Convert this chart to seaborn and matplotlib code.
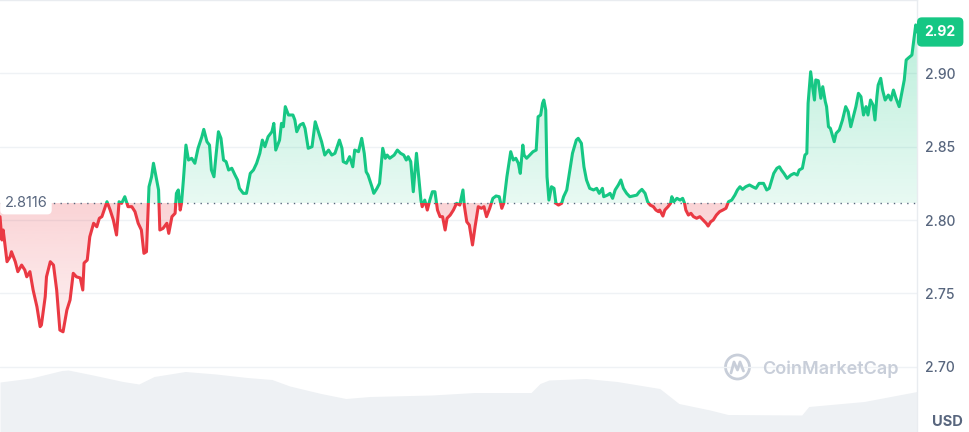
import numpy as np
import matplotlib
matplotlib.use('Agg')
import matplotlib.pyplot as plt
import matplotlib.colors as mcolors
from matplotlib.patches import Rectangle, Circle
from matplotlib.lines import Line2D
from matplotlib.path import Path
from matplotlib.transforms import IdentityTransform
import seaborn as sns

# minutes since the start of the 24h window
minutes = [0, 3, 5, 11, 16, 18, 24, 28, 34, 39, 42, 47, 52, 58, 63, 65, 71, 73, 79, 84,
           89, 94, 99, 105, 110, 115, 120, 126, 130, 132, 137, 141, 147, 152, 156, 160,
           168, 173, 178, 183, 187, 191, 196, 201, 207, 212, 217, 222, 226, 230, 234,
           238, 241, 246, 249, 251, 256, 262, 265, 270, 275, 277, 280, 283, 285, 288,
           292, 296, 301, 306, 311, 317, 320, 325, 329, 332, 336, 339, 343, 347, 351,
           355, 359, 364, 369, 373, 376, 382, 387, 393, 398, 403, 408, 412, 416, 421,
           427, 430, 433, 439, 442, 445, 448, 453, 460, 463, 466, 471,
           476, 479, 484, 490, 495, 500, 505, 510, 516, 521, 526, 533, 537, 539, 544,
           549, 554, 557, 563, 568, 572, 575, 578, 584, 587, 592, 596, 601, 605, 608,
           612, 619, 624, 629, 634, 638, 641, 645, 649, 654, 658, 661, 663, 667, 671,
           675, 679, 683, 687, 691, 695, 699, 702, 707,
           712, 717, 722, 727, 729, 733, 737, 742, 746, 751, 756, 760, 764, 769, 774,
           779, 784, 788, 791, 796, 802, 806, 810, 814, 817, 821, 823, 827, 832, 837,
           842, 845, 849, 852, 854, 857, 859, 862, 866, 870, 873, 877, 882, 885, 890,
           894, 899, 905, 908, 913, 917, 921, 926, 932, 937, 941,
           946, 948, 954, 958, 962, 966, 971, 975, 979, 984, 989, 994, 1000, 1004, 1008,
           1013, 1017, 1021, 1026, 1030, 1034, 1036, 1041, 1044, 1049, 1053, 1055, 1058,
           1063, 1068, 1072, 1075, 1077, 1081, 1085, 1089, 1094, 1099, 1104, 1109, 1112,
           1116, 1120, 1125, 1130, 1135, 1140, 1144, 1149, 1154, 1158, 1162, 1166, 1171,
           1177, 1182, 1187, 1192,
           1199, 1204, 1208, 1212, 1215, 1220, 1224, 1227, 1231, 1236, 1242, 1247, 1252,
           1255, 1260, 1264, 1267, 1269, 1273, 1276, 1279, 1281, 1285, 1289, 1292, 1296,
           1298, 1301, 1304, 1310, 1313, 1318, 1323, 1328, 1332, 1336, 1340, 1344, 1348,
           1352, 1356, 1360, 1363, 1367, 1371, 1374, 1377, 1379, 1383, 1386, 1390, 1395,
           1399, 1403, 1407, 1412, 1416, 1420, 1423, 1426, 1432, 1434, 1438, 1440]

# price in USD
price = [2.8023, 2.7864, 2.7932, 2.7716, 2.7750, 2.7784, 2.7716, 2.7648, 2.7693, 2.7659,
         2.7613, 2.7648, 2.7523, 2.7409, 2.7273, 2.7284, 2.7477, 2.7613, 2.7716, 2.7693,
         2.7523, 2.7250, 2.7238, 2.7386, 2.7455, 2.7637, 2.7613, 2.7605, 2.7523, 2.7707,
         2.7727, 2.7886, 2.7978, 2.7954, 2.8012, 2.8023, 2.8125, 2.8068, 2.8000, 2.7898,
         2.8125, 2.8114, 2.8159, 2.8091, 2.8091, 2.8057, 2.7978, 2.7932, 2.7773, 2.7784,
         2.8227,
         2.8295, 2.8387, 2.8273, 2.8205, 2.7932, 2.7943, 2.7978, 2.7909, 2.8023, 2.8046,
         2.8182, 2.8205, 2.8068, 2.8114, 2.8273, 2.8511, 2.8409, 2.8421, 2.8387, 2.8489,
         2.8568, 2.8618, 2.8534, 2.8511, 2.8341, 2.8295, 2.8432, 2.8602, 2.8557, 2.8409,
         2.8398, 2.8341, 2.8353, 2.8307, 2.8273, 2.8216, 2.8182, 2.8182, 2.8318, 2.8341,
         2.8387, 2.8455, 2.8545, 2.8500, 2.8568, 2.8602, 2.8659, 2.8477, 2.8545, 2.8659,
         2.8636, 2.8773, 2.8716, 2.8716, 2.8682, 2.8602, 2.8648,
         2.8659, 2.8625, 2.8489, 2.8500, 2.8670, 2.8602, 2.8534, 2.8443, 2.8477, 2.8443,
         2.8455, 2.8545, 2.8489, 2.8398, 2.8387, 2.8432, 2.8363, 2.8477, 2.8466, 2.8557,
         2.8455, 2.8329, 2.8307, 2.8227, 2.8182, 2.8216, 2.8250, 2.8489, 2.8421, 2.8443,
         2.8421, 2.8443, 2.8477, 2.8455, 2.8443, 2.8409, 2.8432, 2.8398, 2.8193, 2.8455,
         2.8273, 2.8136, 2.8091, 2.8136, 2.8068, 2.8136, 2.8193, 2.8193, 2.8068, 2.8023,
         2.8023, 2.7932, 2.8012, 2.8034,
         2.8068, 2.8114, 2.8102, 2.8205, 2.8102, 2.7988, 2.7966, 2.7830, 2.7954, 2.8091,
         2.8080, 2.8091, 2.8023, 2.8080, 2.8148, 2.8164, 2.8159, 2.8080, 2.8114, 2.8295,
         2.8466, 2.8409, 2.8421, 2.8387, 2.8318, 2.8511, 2.8443, 2.8421, 2.8443, 2.8466,
         2.8477, 2.8704, 2.8716, 2.8796, 2.8818, 2.8750, 2.8295, 2.8136, 2.8227, 2.8216,
         2.8114, 2.8102, 2.8114, 2.8159, 2.8205, 2.8318, 2.8455, 2.8545, 2.8557, 2.8523,
         2.8363, 2.8273, 2.8216, 2.8205, 2.8216, 2.8182,
         2.8216, 2.8159, 2.8170, 2.8182, 2.8148, 2.8205, 2.8239, 2.8273, 2.8216, 2.8182,
         2.8159, 2.8164, 2.8170, 2.8193, 2.8209, 2.8182, 2.8125, 2.8102, 2.8091, 2.8068,
         2.8057, 2.8068, 2.8027, 2.8068, 2.8091, 2.8114, 2.8159, 2.8125, 2.8148, 2.8136,
         2.8148, 2.8114, 2.8068, 2.8034, 2.8046, 2.8023, 2.8012, 2.8023, 2.8000, 2.7978,
         2.7959, 2.7988, 2.8000, 2.8034, 2.8057, 2.8068, 2.8080, 2.8125, 2.8136, 2.8170,
         2.8205, 2.8227, 2.8209, 2.8227, 2.8239, 2.8227, 2.8216, 2.8250,
         2.8250, 2.8205, 2.8216, 2.8273, 2.8318, 2.8353, 2.8363, 2.8341, 2.8318, 2.8284,
         2.8307, 2.8318, 2.8307, 2.8341, 2.8353, 2.8443, 2.8455, 2.8796, 2.9011, 2.8909,
         2.8818, 2.8955, 2.8950, 2.8830, 2.8909, 2.8807, 2.8773, 2.8636, 2.8625, 2.8534,
         2.8591, 2.8614, 2.8682, 2.8773, 2.8738, 2.8636, 2.8704, 2.8773, 2.8864, 2.8841,
         2.8716, 2.8773, 2.8716, 2.8818, 2.8784, 2.8682, 2.8841, 2.8920, 2.8966, 2.8886,
         2.8818, 2.8852, 2.8818, 2.8886, 2.8830, 2.8773, 2.8864, 2.8955, 2.9091, 2.9103,
         2.9125, 2.9193, 2.9330, 2.9282]

# rolling volume (millions USD)
vol_minutes = [0, 49, 97, 107, 146, 193, 218, 242, 291, 339, 388, 427, 455, 504, 543, 581,
               678, 746, 834, 848, 862, 920, 969, 1036, 1066, 1115, 1143, 1259, 1270, 1357, 1440]
volume = [100, 108, 123, 124, 114, 101, 96, 111, 121, 116, 109, 105, 92, 77, 67, 71,
          74, 79, 79, 97, 104, 107, 101, 87, 57, 44, 35, 34, 51, 61, 81]

yticks = [2.70, 2.75, 2.80, 2.85, 2.90]
open_price = 2.8116
last_label = '2.92'

green = '#16c784'
red = '#ea3943'
grey = '#58667e'

sns.set_theme(style='white')
plt.rcParams['font.family'] = ['Inter', 'DejaVu Sans']

t = np.array(minutes)
p = np.array(price)

fig = plt.figure(figsize=(9.7, 4.32), dpi=100)
ax = fig.add_axes([0, 0, 917 / 970, 1])
ax2 = ax.twinx()
ax.set_zorder(ax2.get_zorder() + 1)
ax.patch.set_visible(False)

# volume in the background
ax2.fill_between(vol_minutes, volume, 0, color='#eef1f4', lw=0)
ax2.set_ylim(0, 864)
ax2.axis('off')


def gradient_fill(mask, color, y_lo, y_hi, a_lo, a_hi):
    poly = ax.fill_between(t, p, open_price, where=mask, interpolate=True,
                           facecolor='none', edgecolor='none')
    grad = np.zeros((256, 1, 4))
    grad[:, :, :3] = mcolors.to_rgb(color)
    grad[:, 0, 3] = np.linspace(a_lo, a_hi, 256)
    im = ax.imshow(grad, extent=[0, 1440, y_lo, y_hi], origin='lower',
                   aspect='auto', zorder=1)
    im.set_clip_path(Path.make_compound_path(*poly.get_paths()), ax.transData)


gradient_fill(p >= open_price, green, open_price, 2.95, 0.10, 0.32)
gradient_fill(p <= open_price, red, 2.70, open_price, 0.03, 0.22)

# price line, green above the open price and red below it
sns.lineplot(x=t, y=p, ax=ax, color=green, lw=2.2, estimator=None, sort=False, zorder=4)
ax.lines[-1].set_clip_path(Rectangle((0, open_price), 1440, 1, transform=ax.transData))
sns.lineplot(x=t, y=p, ax=ax, color=red, lw=2.2, estimator=None, sort=False, zorder=4)
ax.lines[-1].set_clip_path(Rectangle((0, 2.0), 1440, open_price - 2.0, transform=ax.transData))

ax.axhline(open_price, color=grey, ls=(0, (1, 3.8)), lw=1, zorder=3)

ax.set_xlim(0, 1440)
ax.set_ylim(2.6555, 2.95)
ax.set_xticks([])
ax.yaxis.tick_right()
ax.set_yticks(yticks)
ax.set_yticklabels([f'{v:.2f}' for v in yticks])
ax.tick_params(axis='y', length=0, pad=6, labelsize=10, labelcolor=grey)
for lab in ax.get_yticklabels():
    lab.set_fontweight('medium')
ax.grid(axis='y', color='#eff2f5', lw=1)
ax.grid(axis='x', visible=False)
ax.spines[['left', 'bottom']].set_visible(False)
ax.spines[['top', 'right']].set_color('#e9ecf0')
ax.spines[['top', 'right']].set_linewidth(1)

# open price label
ax.text(0.005, open_price, f'{open_price:.4f}', transform=ax.get_yaxis_transform(which='grid'),
        ha='left', va='center', fontsize=10.5, color=grey, zorder=6,
        bbox=dict(boxstyle='round,pad=0.3', fc='white', ec='none'))
# last price label
ax.annotate(last_label, xy=(1, p[-1]), xycoords=('axes fraction', 'data'),
            xytext=(5.5, 0), textcoords='offset points', ha='left', va='center',
            fontsize=10, fontweight='bold', color='white', annotation_clip=False,
            bbox=dict(boxstyle='round,pad=0.55,rounding_size=0.35', fc=green, ec='none'))

fig.text(947 / 970, 1 - 422 / 432, 'USD', ha='center', va='center',
         fontsize=10.5, fontweight='bold', color=grey)

# watermark
wm = '#c8ced9'
fig.text(762 / 970, 1 - 369 / 432, 'CoinMarketCap', ha='left', va='center',
         fontsize=13, fontweight='semibold', color=wm)
fig.add_artist(Circle((737.5, 432 - 367), 12, fill=False, ec=wm, lw=2,
                      transform=IdentityTransform()))
fig.add_artist(Line2D([731, 734, 737.5, 740, 743.5], [432 - 373, 432 - 362, 432 - 370, 432 - 362, 432 - 371],
                      color=wm, lw=2, transform=IdentityTransform()))

fig.savefig('out.png', dpi=100)
